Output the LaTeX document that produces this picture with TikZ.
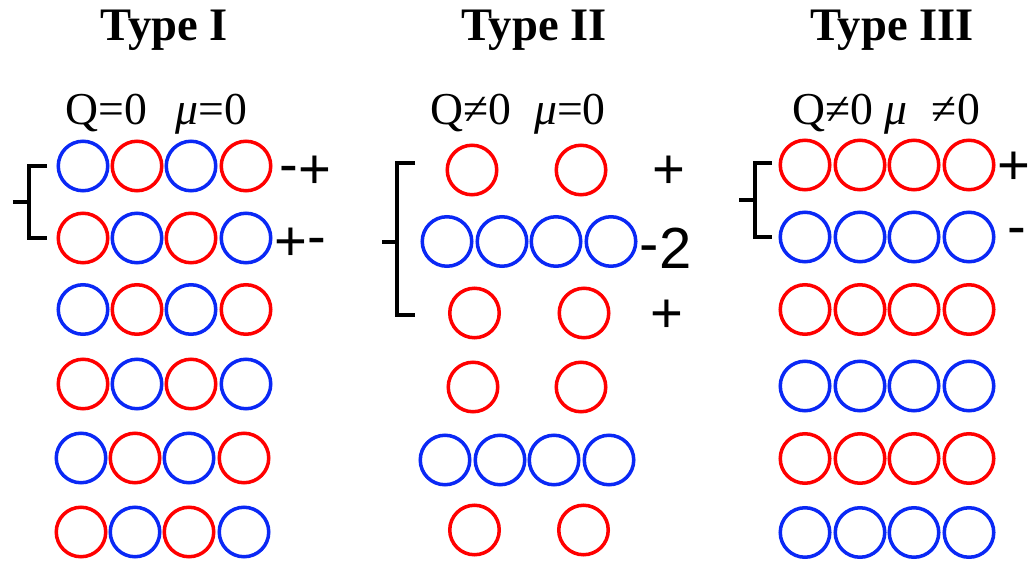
\documentclass[tikz,border=0pt]{standalone}
\usepackage{fontspec}
\setmainfont{Liberation Serif}
\setsansfont{Liberation Sans}

\definecolor{ringred}{RGB}{255,0,0}
\definecolor{ringblue}{RGB}{10,40,245}

\newcommand{\uphy}{\raisebox{0.08em}{-}}

\tikzset{
  ring/.style={circle,draw=#1,line width=2pt,minimum size=0.99cm,inner sep=0pt},
  typetitle/.style={font=\bfseries\fontsize{26.5}{30}\selectfont,anchor=base,inner sep=0pt},
  chargelabel/.style={font=\fontsize{26}{30}\selectfont,anchor=base,inner sep=0pt},
  signlabel/.style={font=\sffamily\fontsize{32}{36}\selectfont,anchor=base west,inner sep=0pt},
  bracket/.style={line width=1.8pt}
}

\begin{document}
\begin{tikzpicture}
  \useasboundingbox (0,0) rectangle (20.7,-11.26);

  % Titles
  \node[typetitle] (titleI)   at (3.28,-0.82)  {Type I};
  \node[typetitle] (titleII)  at (10.68,-0.82) {Type II};
  \node[typetitle] (titleIII) at (17.84,-0.82) {Type III};

  % Charge / moment labels
  \node[chargelabel] (qI)   at (3.13,-2.49)  {Q=0\hspace{16pt}\textit{μ}=0};
  \node[chargelabel] (qII)  at (10.36,-2.49) {Q≠0\hspace{13pt}\textit{μ}=0};
  \node[chargelabel] (qIII) at (17.72,-2.49) {Q≠0 \textit{μ}\hspace{14pt}≠0};

  % Type I: alternating rows
  \foreach \y/\ca/\cb/\dx [count=\r] in {-3.32/ringblue/ringred/0,-4.76/ringred/ringblue/0,
      -6.19/ringblue/ringred/0,-7.68/ringred/ringblue/0,
      -9.16/ringblue/ringred/-0.04,-10.64/ringred/ringblue/-0.04}
    \foreach \x/\cc [count=\c] in {1.66/\ca,2.74/\cb,3.82/\ca,4.92/\cb}
      \node[ring=\cc] (tI-\r-\c) at (\x+\dx,\y) {};

  % Type II: red pairs and blue chains
  \foreach \y/\xa/\xb [count=\r] in {-3.40/9.44/11.62,-6.26/9.49/11.68,
      -7.74/9.46/11.62,-10.60/9.49/11.67} {
    \node[ring=ringred] (tII-p\r-1) at (\xa,\y) {};
    \node[ring=ringred] (tII-p\r-2) at (\xb,\y) {};
  }
  \foreach \y/\dx [count=\r] in {-4.83/0,-9.20/-0.04}
    \foreach \x [count=\c] in {8.94,10.04,11.12,12.22}
      \node[ring=ringblue] (tII-b\r-\c) at (\x+\dx,\y) {};

  % Type III: uniform rows
  \foreach \y/\cc [count=\r] in {-3.30/ringred,-4.74/ringblue,-6.19/ringred,
      -7.72/ringblue,-9.17/ringred,-10.65/ringblue}
    \foreach \x [count=\c] in {16.10,17.20,18.28,19.38}
      \node[ring=\cc] (tIII-\r-\c) at (\x,\y) {};

  % Signs
  \node[signlabel] (sI1)   at (5.59,-3.76)  {\uphy+};
  \node[signlabel] (sI2)   at (5.48,-5.20)  {+\uphy};
  \node[signlabel,anchor=base] (sII1) at (13.37,-3.76) {+};
  \node[signlabel,font=\sffamily\fontsize{33}{36}\selectfont] (sII2) at (12.79,-5.36) {\uphy2};
  \node[signlabel,anchor=base] (sII3) at (13.33,-6.65) {+};
  \node[signlabel] (sIII1) at (19.95,-3.69) {+};
  \node[signlabel] (sIII2) at (20.15,-4.90) {-};

  % Brackets
  \draw[bracket] (0.94,-3.32) -- (0.58,-3.32) -- (0.58,-4.76) -- (0.94,-4.76);
  \draw[bracket] (0.26,-4.04) -- (0.58,-4.04);
  \draw[bracket] (8.30,-3.26) -- (7.94,-3.26) -- (7.94,-6.30) -- (8.30,-6.30);
  \draw[bracket] (7.64,-4.84) -- (7.94,-4.84);
  \draw[bracket] (15.44,-3.26) -- (15.10,-3.26) -- (15.10,-4.74) -- (15.44,-4.74);
  \draw[bracket] (14.78,-4.00) -- (15.10,-4.00);
\end{tikzpicture}
\end{document}
